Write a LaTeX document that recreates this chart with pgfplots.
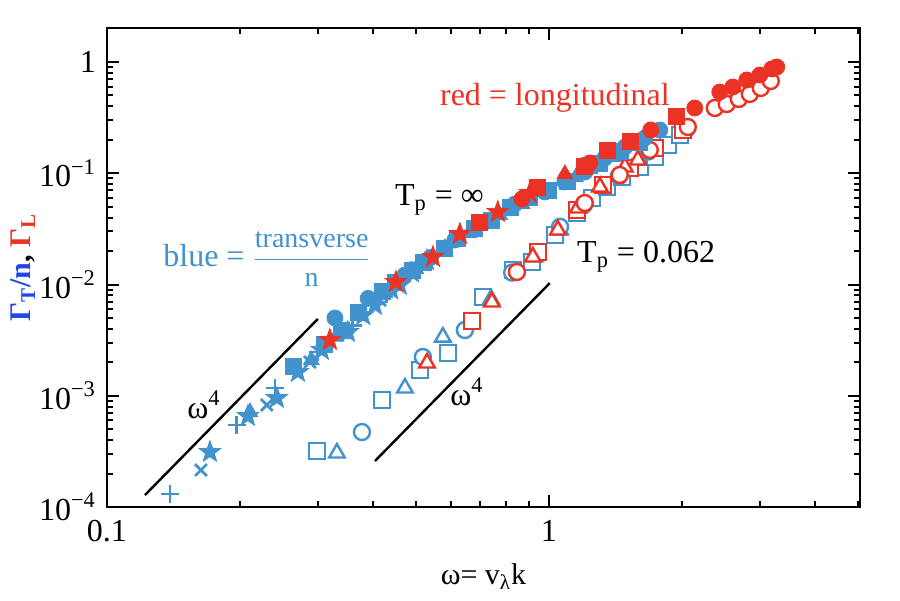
\documentclass[border=0pt]{standalone}
\usepackage{fontspec}
\setmainfont{Liberation Serif}
\usepackage{amsmath}
\usepackage{pgfplots}
\pgfplotsset{compat=1.18}
\definecolor{bl}{RGB}{66,146,206}
\definecolor{rd}{RGB}{236,50,36}
\definecolor{ylb}{RGB}{30,70,235}
\pgfdeclareplotmark{fstar}{%
  \pgfpathmoveto{\pgfpointpolar{90}{1.35\pgfplotmarksize}}%
  \pgfpathlineto{\pgfpointpolar{126}{0.55\pgfplotmarksize}}%
  \pgfpathlineto{\pgfpointpolar{162}{1.35\pgfplotmarksize}}%
  \pgfpathlineto{\pgfpointpolar{198}{0.55\pgfplotmarksize}}%
  \pgfpathlineto{\pgfpointpolar{234}{1.35\pgfplotmarksize}}%
  \pgfpathlineto{\pgfpointpolar{270}{0.55\pgfplotmarksize}}%
  \pgfpathlineto{\pgfpointpolar{306}{1.35\pgfplotmarksize}}%
  \pgfpathlineto{\pgfpointpolar{342}{0.55\pgfplotmarksize}}%
  \pgfpathlineto{\pgfpointpolar{18}{1.35\pgfplotmarksize}}%
  \pgfpathlineto{\pgfpointpolar{54}{0.55\pgfplotmarksize}}%
  \pgfpathclose
  \pgfusepathqfillstroke
}
\begin{document}
\begin{tikzpicture}
\begin{axis}[
  xmode=log, ymode=log,
  scale only axis, width=376.5pt, height=239.5pt,
  xmin=0.1, xmax=5.06, ymin=1e-4, ymax=2.02,
  axis line style={line width=1.4pt},
  tick align=inside,
  major tick length=6pt, minor tick length=3.2pt,
  every tick/.style={line width=1pt, black},
  xtick={0.1,1}, xticklabels={0.1,1},
  minor xtick={0.2,0.3,0.4,0.5,0.6,0.7,0.8,0.9,2,3,4,5},
  ytick={1e-4,1e-3,1e-2,1e-1,1},
  yticklabels={10\textsuperscript{−4},10\textsuperscript{−3},10\textsuperscript{−2},10\textsuperscript{−1},1},
  minor ytick={2e-4,3e-4,4e-4,5e-4,6e-4,7e-4,8e-4,9e-4,
               2e-3,3e-3,4e-3,5e-3,6e-3,7e-3,8e-3,9e-3,
               2e-2,3e-2,4e-2,5e-2,6e-2,7e-2,8e-2,9e-2,
               0.2,0.3,0.4,0.5,0.6,0.7,0.8,0.9,2},
  tick label style={font=\fontsize{16}{16}\selectfont},
  xticklabel style={yshift=-3pt},
  yticklabel style={xshift=-2pt},
  xlabel={ω= v\textsubscript{λ}k},
  xlabel style={font=\fontsize{15}{15}\selectfont, yshift=-4pt},
  ylabel={\textbf{\textcolor{ylb}{Γ\textsubscript{T}/n}, \textcolor{rd}{Γ\textsubscript{L}}}},
  ylabel style={font=\fontsize{15}{15}\selectfont, yshift=-5pt},
  clip=false,
]
% omega^4 guide lines
\addplot[black, line width=1.2pt] coordinates {(0.1219,1.282e-4) (0.300,4.9e-3)};
\addplot[black, line width=1.2pt] coordinates {(0.404,2.59e-4) (1.005,0.0103)};

% ---------- T_p = 0.062, blue open ----------
\addplot[only marks, mark=square*, mark size=4pt, bl, line width=1.2pt, mark options={fill=white}] coordinates {
(0.2986,3.19e-4) (0.419,9.16e-4) (0.5107,1.70e-3) (0.5907,2.42e-3) (0.7089,7.72e-3)
(0.829,0.0135) (0.915,0.01593) (1.032,0.02786) (1.157,0.0439) (1.252,0.0599)
(1.353,0.0752) (1.463,0.0925) (1.607,0.1138) (1.737,0.14) (1.859,0.1794) (1.979,0.2207)};
\addplot[only marks, mark=triangle*, mark size=4.5pt, bl, line width=1.2pt, mark options={fill=white}] coordinates {
(0.3315,3.06e-4) (0.4723,1.174e-3) (0.5756,3.37e-3) (0.74,7.4e-3) (0.93,0.0178)
(1.06,0.031) (1.17,0.049) (1.31,0.076) (1.49,0.112) (1.6,0.131)};
\addplot[only marks, mark=*, mark size=4pt, bl, line width=1.2pt, mark options={fill=white}] coordinates {
(0.3776,4.72e-4) (0.5187,2.23e-3) (0.6456,3.9e-3) (0.826,0.0128) (1.06,0.033)
(1.2,0.052) (1.44,0.094) (1.68,0.157) (2.05,0.25)};

% ---------- T_p = 0.062, red open ----------
\addplot[only marks, mark=square*, mark size=4pt, rd, line width=1.2pt, mark options={fill=white}] coordinates {
(0.6695,4.7e-3) (0.9444,0.0196) (1.157,0.0467) (1.325,0.0784) (1.526,0.1115)
(1.737,0.1687) (2.01,0.2448)};
\addplot[only marks, mark=triangle*, mark size=4.5pt, rd, line width=1.2pt, mark options={fill=white}] coordinates {
(0.53,1.97e-3) (0.743,6.96e-3) (0.92,0.01767) (1.048,0.0309) (1.163,0.0487)
(1.305,0.0752) (1.486,0.1138) (1.59,0.1315)};
\addplot[only marks, mark=*, mark size=4pt, rd, line width=1.2pt, mark options={fill=white}] coordinates {
(0.8466,0.01296) (1.206,0.054) (1.447,0.0965) (1.692,0.162) (2.063,0.2604)
(2.375,0.386) (2.527,0.419) (2.691,0.465) (2.85,0.516) (3.018,0.584) (3.179,0.675)};

% ---------- T_p = infinity, blue filled ----------
\addplot[only marks, mark=+, mark size=4.5pt, bl, line width=1.4pt] coordinates {
(0.1388,1.31e-4) (0.1968,5.46e-4) (0.240,1.174e-3) (0.300,2.47e-3) (0.36,4.3e-3) (0.43,8.2e-3)};
\addplot[only marks, mark=x, mark size=4.2pt, bl, line width=1.4pt] coordinates {
(0.1632,2.15e-4) (0.230,8.26e-4) (0.288,2.01e-3) (0.3456,3.9e-3) (0.4146,7.26e-3) (0.4975,0.01406)};
\addplot[only marks, mark=fstar, mark size=4.2pt, bl, line width=0.4pt] coordinates {
(0.171,3.12e-4) (0.2084,6.58e-4) (0.2424,9.54e-4) (0.2705,1.635e-3) (0.3064,2.58e-3)
(0.351,3.74e-3) (0.38,5.3e-3) (0.404,6.54e-3) (0.44,9.0e-3) (0.46,9.9e-3) (0.49,0.0128) (0.53,0.0165)};
\addplot[only marks, mark=triangle*, mark size=4.5pt, bl] coordinates {
(0.2106,7.14e-4) (0.29,2.1e-3) (0.33,3.4e-3) (0.37,5.2e-3) (0.4256,8.39e-3) (0.5,0.0138)
(0.5817,0.02128) (0.66,0.029) (0.7746,0.0421) (0.87,0.053) (1.15,0.092) (1.4,0.14)};
\addplot[only marks, mark=square*, mark size=4pt, bl] coordinates {
(0.2636,1.851e-3) (0.31,2.9e-3) (0.34,3.9e-3) (0.3698,5.66e-3) (0.42,8.6e-3) (0.45,0.0105)
(0.4924,0.0135) (0.52,0.0158) (0.58,0.021) (0.62,0.0262) (0.680,0.0322) (0.74,0.038) (0.82,0.049)
(0.9057,0.0612) (1.0,0.07) (1.1,0.085) (1.238,0.1186) (1.3,0.122) (1.45,0.158) (1.6,0.19)};
\addplot[only marks, mark=*, mark size=4pt, bl] coordinates {
(0.328,5.0e-3) (0.39,7.5e-3) (0.4723,0.01217) (0.54,0.0175) (0.6128,0.0251)
(0.7164,0.0365) (0.8379,0.0529) (0.9795,0.0679) (1.087,0.0834) (1.206,0.1026)
(1.339,0.1371) (1.486,0.172) (1.649,0.2074) (1.783,0.2448)};

% ---------- T_p = infinity, red filled ----------
\addplot[only marks, mark=fstar, mark size=4.2pt, rd, line width=0.4pt] coordinates {
(0.3195,3.17e-3) (0.4506,0.01053) (0.5466,0.01767) (0.629,0.02844) (0.7665,0.04484) (0.9057,0.0665)};
\addplot[only marks, mark=square*, mark size=4pt, rd] coordinates {
(0.698,0.0365) (0.9396,0.0752) (1.206,0.1162) (1.36,0.1618) (1.526,0.195) (1.948,0.327)};
\addplot[only marks, mark=triangle*, mark size=4.5pt, rd] coordinates {(1.087,0.0985)};
\addplot[only marks, mark=*, mark size=4pt, rd] coordinates {
(0.869,0.0587) (1.238,0.1236) (1.701,0.2448) (2.139,0.386)
(2.437,0.5374) (2.608,0.596) (2.805,0.689) (3.002,0.764) (3.195,0.865) (3.28,0.902)};

% ---------- annotations ----------
\node[anchor=center, text=rd, font=\fontsize{16}{16}\selectfont] at (axis cs:1.032,0.4747) {red = longitudinal};
\node[anchor=base west, font=\fontsize{16}{16}\selectfont, inner sep=0pt] at (axis cs:0.448,0.0518) {T\textsubscript{p} = ∞};
\node[anchor=base west, font=\fontsize{16}{16}\selectfont, inner sep=0pt] at (axis cs:1.157,0.01593) {T\textsubscript{p} = 0.062};
\node[anchor=west, text=bl, font=\fontsize{16}{16}\selectfont, inner sep=0pt] at (axis cs:0.1339,0.01695) {blue = {\fontsize{14}{14}\selectfont$\dfrac{\textrm{transverse}}{\textrm{n}}$}};
\node[anchor=base west, font=\fontsize{16}{16}\selectfont, inner sep=0pt] at (axis cs:0.1517,6.31e-4) {ω\textsuperscript{4}};
\node[anchor=base west, font=\fontsize{16}{16}\selectfont, inner sep=0pt] at (axis cs:0.597,8.26e-4) {ω\textsuperscript{4}};
\end{axis}
\pgfresetboundingbox
\path[use as bounding box] ([xshift=-53.5pt,yshift=-46.5pt]current axis.south west) rectangle ([xshift=20pt,yshift=14pt]current axis.north east);
\end{tikzpicture}
\end{document}
